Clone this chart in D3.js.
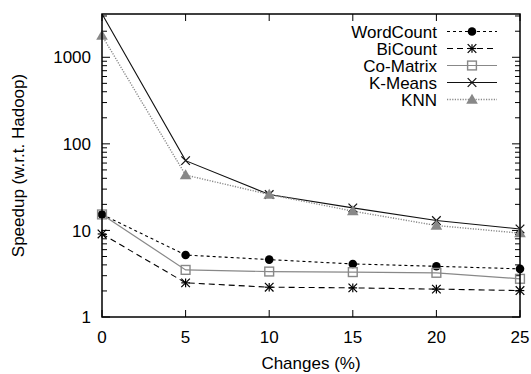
<!DOCTYPE html>
<html>
<head>
<meta charset="utf-8">
<script src="https://cdn.jsdelivr.net/npm/d3@7"></script>
<style>
  body { margin: 0; background: #fff; }
  svg { font-family: "Liberation Sans", Arial, sans-serif; }
</style>
</head>
<body>
<svg id="chart" width="531" height="374"></svg>
<script>
const changes = [0, 5, 10, 15, 20, 25];
const seriesNames = ["WordCount", "BiCount", "Co-Matrix", "K-Means", "KNN"];
const wordCount = [15.3, 5.2, 4.6, 4.1, 3.85, 3.6];
const biCount = [9.1, 2.48, 2.21, 2.17, 2.1, 2.02];
const coMatrix = [15.3, 3.5, 3.35, 3.3, 3.24, 2.76];
const kMeans = [3170, 64, 26, 18.2, 13, 10.4];
const knn = [1780, 43.6, 26, 16.7, 11.4, 9.3];
const yTicks = [1, 10, 100, 1000];
const xTicks = [0, 5, 10, 15, 20, 25];

const seriesValues = [wordCount, biCount, coMatrix, kMeans, knn];
const styles = [
  { color: "#000", dash: "3,3", width: 1.1, marker: "circle" },
  { color: "#000", dash: "6,4", width: 1.1, marker: "star" },
  { color: "#888", dash: null, width: 1.2, marker: "square" },
  { color: "#111", dash: null, width: 1.1, marker: "cross" },
  { color: "#888", dash: "1.2,1.4", width: 1.4, marker: "triangle" }
];

const margin = { top: 14, right: 11, bottom: 57, left: 102 };
const width = 531 - margin.left - margin.right;
const height = 374 - margin.top - margin.bottom;
const fs = 17;

const svg = d3.select("#chart");
const g = svg.append("g")
    .attr("transform", `translate(${margin.left},${margin.top})`);

const x = d3.scaleLinear().domain([0, 25]).range([0, width]);
const y = d3.scaleLog().domain([1, 3162]).range([height, 0]);

g.append("clipPath").attr("id", "clip")
  .append("rect").attr("width", width).attr("height", height);

// ticks (inward, mirrored on top/right)
const minor = [];
for (let d = 1; d <= 1000; d *= 10) {
  for (let k = 2; k <= 9; k++) if (d * k <= 3162) minor.push(d * k);
}
const tickG = g.append("g").attr("stroke", "#000").attr("stroke-width", 1);
yTicks.forEach(v => {
  tickG.append("line").attr("x1", 0).attr("x2", 8).attr("y1", y(v)).attr("y2", y(v));
  tickG.append("line").attr("x1", width).attr("x2", width - 8).attr("y1", y(v)).attr("y2", y(v));
});
minor.forEach(v => {
  tickG.append("line").attr("x1", 0).attr("x2", 5).attr("y1", y(v)).attr("y2", y(v));
  tickG.append("line").attr("x1", width).attr("x2", width - 5).attr("y1", y(v)).attr("y2", y(v));
});
xTicks.forEach(v => {
  tickG.append("line").attr("x1", x(v)).attr("x2", x(v)).attr("y1", height).attr("y2", height - 7);
  tickG.append("line").attr("x1", x(v)).attr("x2", x(v)).attr("y1", 0).attr("y2", 7);
});

g.selectAll(".ylab").data(yTicks).enter().append("text")
  .attr("x", -11).attr("y", d => y(d)).attr("dy", "0.36em")
  .attr("text-anchor", "end").attr("font-size", fs).text(d => d);
g.selectAll(".xlab").data(xTicks).enter().append("text")
  .attr("x", d => x(d)).attr("y", height + 26)
  .attr("text-anchor", "middle").attr("font-size", fs).text(d => d);

svg.append("text").attr("x", margin.left + width / 2).attr("y", 369)
  .attr("text-anchor", "middle").attr("font-size", fs).text("Changes (%)");
svg.append("text").attr("transform", `translate(24,${margin.top + height / 2}) rotate(-90)`)
  .attr("text-anchor", "middle").attr("font-size", fs).text("Speedup (w.r.t. Hadoop)");

function drawMarker(sel, type, cx, cy, color) {
  const s = 4.3;
  if (type === "circle") {
    sel.append("circle").attr("cx", cx).attr("cy", cy).attr("r", 4.3).attr("fill", color);
  } else if (type === "square") {
    sel.append("rect").attr("x", cx - 4.4).attr("y", cy - 4.4).attr("width", 8.8).attr("height", 8.8)
      .attr("fill", "none").attr("stroke", color).attr("stroke-width", 1.4);
  } else if (type === "triangle") {
    sel.append("path").attr("d", `M${cx - 5.8},${cy + 4.2} L${cx + 5.8},${cy + 4.2} L${cx},${cy - 5.8} Z`)
      .attr("fill", color);
  } else {
    const p = sel.append("g").attr("stroke", color).attr("stroke-width", 1.2);
    p.append("line").attr("x1", cx - s).attr("y1", cy - s).attr("x2", cx + s).attr("y2", cy + s);
    p.append("line").attr("x1", cx - s).attr("y1", cy + s).attr("x2", cx + s).attr("y2", cy - s);
    if (type === "star") {
      p.append("line").attr("x1", cx).attr("y1", cy - s).attr("x2", cx).attr("y2", cy + s);
      p.append("line").attr("x1", cx - s).attr("y1", cy).attr("x2", cx + s).attr("y2", cy);
    }
  }
}

const line = d3.line().x(d => x(d[0])).y(d => y(d[1]));
const plotG = g.append("g").attr("clip-path", "url(#clip)");
seriesValues.forEach((vals, i) => {
  const st = styles[i];
  const pts = changes.map((c, j) => [c, vals[j]]);
  plotG.append("path").datum(pts).attr("d", line)
    .attr("fill", "none").attr("stroke", st.color).attr("stroke-width", st.width)
    .attr("stroke-dasharray", st.dash);
});
const markG = g.append("g");
seriesValues.forEach((vals, i) => {
  const st = styles[i];
  changes.forEach((c, j) => {
    if (vals[j] <= 3162) drawMarker(markG, st.marker, x(c), y(vals[j]), st.color);
  });
});

// legend
const leg = svg.append("g");
seriesNames.forEach((name, i) => {
  const st = styles[i];
  const ly = 31.5 + i * 17;
  leg.append("text").attr("x", 437).attr("y", ly).attr("dy", "0.36em")
    .attr("text-anchor", "end").attr("font-size", fs).text(name);
  leg.append("line").attr("x1", 447).attr("x2", 497).attr("y1", ly).attr("y2", ly)
    .attr("stroke", st.color).attr("stroke-width", st.width).attr("stroke-dasharray", st.dash);
  drawMarker(leg, st.marker, 472, ly, st.color);
});

g.append("rect").attr("width", width).attr("height", height)
  .attr("fill", "none").attr("stroke", "#000").attr("stroke-width", 1.5);
</script>
</body>
</html>
